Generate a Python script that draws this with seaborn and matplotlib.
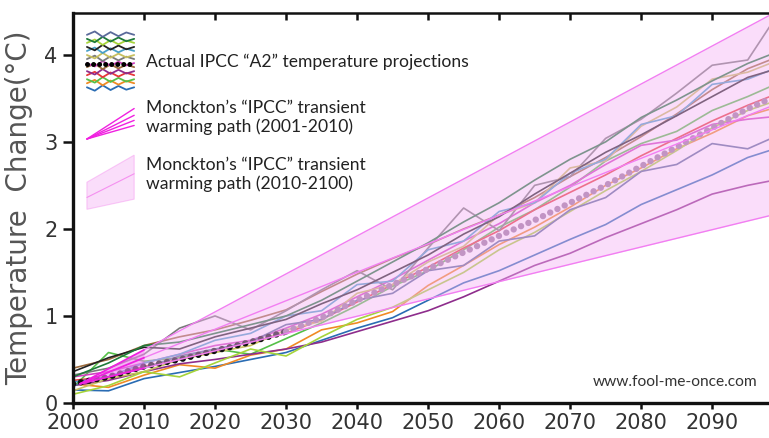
import numpy as np
import pandas as pd
import matplotlib
matplotlib.use("Agg")
import matplotlib.pyplot as plt
import seaborn as sns
from matplotlib.legend_handler import HandlerBase
from matplotlib.lines import Line2D
from matplotlib.patches import Polygon

# ---------------------------------------------------------------------------
# Data (5-year steps)
# ---------------------------------------------------------------------------
years = list(range(2000, 2101, 5))

model_blue = [0.15, 0.14, 0.28, 0.35, 0.42, 0.50, 0.58, 0.72, 0.86, 0.98, 1.18, 1.38, 1.52, 1.70, 1.88, 2.05, 2.28, 2.45, 2.62, 2.82, 2.95]
model_orange = [0.22, 0.18, 0.32, 0.44, 0.40, 0.55, 0.62, 0.84, 0.92, 1.05, 1.35, 1.58, 1.82, 2.02, 2.25, 2.50, 2.70, 2.92, 3.10, 3.30, 3.42]
model_green = [0.18, 0.58, 0.48, 0.52, 0.62, 0.56, 0.74, 0.92, 1.12, 1.34, 1.52, 1.76, 2.02, 2.22, 2.48, 2.78, 2.98, 3.12, 3.36, 3.52, 3.70]
model_red = [0.26, 0.30, 0.42, 0.50, 0.60, 0.70, 0.80, 0.96, 1.16, 1.36, 1.56, 1.78, 1.98, 2.22, 2.42, 2.62, 2.84, 3.04, 3.24, 3.42, 3.58]
model_purple = [0.20, 0.26, 0.36, 0.45, 0.50, 0.56, 0.62, 0.70, 0.82, 0.94, 1.06, 1.22, 1.40, 1.58, 1.72, 1.90, 2.06, 2.22, 2.40, 2.50, 2.58]
model_brown = [0.40, 0.50, 0.66, 0.76, 0.84, 0.95, 1.07, 1.28, 1.48, 1.66, 1.82, 2.00, 2.16, 2.36, 2.60, 2.82, 3.06, 3.32, 3.60, 3.84, 4.00]
model_pink = [0.30, 0.36, 0.46, 0.56, 0.66, 0.72, 0.86, 1.02, 1.22, 1.42, 1.64, 1.86, 2.06, 2.30, 2.50, 2.74, 2.96, 3.02, 3.20, 3.26, 3.30]
model_gray = [0.32, 0.40, 0.56, 0.86, 1.00, 0.84, 1.06, 1.30, 1.52, 1.30, 1.78, 2.24, 1.98, 2.50, 2.60, 3.04, 3.26, 3.56, 3.88, 3.94, 4.56]
model_olive = [0.14, 0.28, 0.36, 0.50, 0.58, 0.66, 0.84, 0.94, 1.26, 1.36, 1.62, 1.80, 2.16, 2.30, 2.70, 2.78, 3.18, 3.40, 3.72, 3.80, 3.96]
model_cyan = [0.24, 0.30, 0.46, 0.56, 0.72, 0.80, 1.00, 1.06, 1.36, 1.40, 1.76, 1.86, 2.20, 2.30, 2.64, 2.80, 3.20, 3.30, 3.66, 3.72, 3.88]
model_black = [0.36, 0.52, 0.64, 0.62, 0.76, 0.86, 0.96, 1.14, 1.30, 1.50, 1.70, 1.94, 2.14, 2.40, 2.64, 2.88, 3.08, 3.30, 3.52, 3.74, 3.86]
model_lime = [0.10, 0.20, 0.36, 0.30, 0.46, 0.62, 0.54, 0.76, 0.96, 1.10, 1.30, 1.50, 1.76, 1.96, 2.20, 2.44, 2.66, 2.90, 3.16, 3.36, 3.50]
model_darkgreen = [0.30, 0.46, 0.66, 0.70, 0.80, 0.90, 1.00, 1.18, 1.40, 1.62, 1.84, 2.08, 2.30, 2.56, 2.80, 3.00, 3.28, 3.48, 3.70, 3.90, 4.06]
model_slate = [0.20, 0.30, 0.40, 0.54, 0.62, 0.70, 0.90, 0.96, 1.18, 1.26, 1.52, 1.58, 1.86, 1.92, 2.22, 2.36, 2.66, 2.74, 2.98, 2.92, 3.10]

ensemble_mean = [0.22, 0.30, 0.42, 0.50, 0.60, 0.70, 0.82, 0.98, 1.18, 1.36, 1.54, 1.73, 1.92, 2.10, 2.30, 2.50, 2.72, 2.94, 3.16, 3.38, 3.56]

# Monckton's fan: apex in 2001, bright segment to 2010, pale wedge to 2098
fan_years = [2001, 2010, 2098]
fan_upper = [0.22, 0.61, 4.45]
fan_middle = [0.22, 0.52, 3.40]
fan_lower = [0.22, 0.40, 2.15]

models = {
    "blue": model_blue, "orange": model_orange, "green": model_green,
    "red": model_red, "purple": model_purple, "brown": model_brown,
    "pink": model_pink, "gray": model_gray, "olive": model_olive,
    "cyan": model_cyan, "black": model_black, "lime": model_lime,
    "darkgreen": model_darkgreen, "slate": model_slate,
}
model_colors = {
    "blue": "#2a6cb3", "orange": "#f08a24", "green": "#55c048",
    "red": "#e8383a", "purple": "#8e2d8c", "brown": "#9b6a3c",
    "pink": "#d040c0", "gray": "#7a7a7a", "olive": "#c8c060",
    "cyan": "#4aa0c8", "black": "#222222", "lime": "#a6d43a",
    "darkgreen": "#1e7a3a", "slate": "#5a6a9a",
}

model_df = pd.DataFrame(
    [(name, yr, val) for name, vals in models.items() for yr, val in zip(years, vals)],
    columns=["model", "year", "temp"],
)
# the mean is black up to 2030 and washed out beyond, where it sits in the wedge
mean_df = pd.concat([
    pd.DataFrame({"year": years[:7], "temp": ensemble_mean[:7], "part": "early"}),
    pd.DataFrame({"year": years[6:], "temp": ensemble_mean[6:], "part": "late"}),
])

FILL_COLOR = "#f4b4f4"

# ---------------------------------------------------------------------------
# Legend swatches
# ---------------------------------------------------------------------------
class EnsembleSwatch(HandlerBase):
    def create_artists(self, legend, orig_handle, xdescent, ydescent,
                       width, height, fontsize, trans):
        artists = []
        xs = np.linspace(-xdescent, width - xdescent, 7)
        wiggle = [0.0, 0.10, -0.06, 0.08, -0.04, 0.07, 0.0]
        names = list(model_colors)
        for i, name in enumerate(names):
            base = -ydescent + height * (-0.25 + 1.55 * i / (len(names) - 1))
            ys = [base + w * height * (1 if i % 2 else -1) for w in wiggle]
            artists.append(Line2D(xs, ys, color=model_colors[name], lw=1.3,
                                  transform=trans))
        mid = -ydescent + height * 0.45
        artists.append(Line2D(xs, [mid] * len(xs), color="black", lw=3.6,
                              ls=(0, (0.01, 1.2)), dash_capstyle="round",
                              transform=trans))
        return artists


class FanSwatch(HandlerBase):
    def create_artists(self, legend, orig_handle, xdescent, ydescent,
                       width, height, fontsize, trans):
        x0, x1 = -xdescent, width - xdescent
        y0 = -ydescent - 0.1 * height
        artists = []
        for frac in [0.3, 0.45, 0.6, 0.8]:
            artists.append(Line2D([x0, x1], [y0, -ydescent + frac * height],
                                  color="#f020e0", lw=1.0, transform=trans))
        return artists


class WedgeSwatch(HandlerBase):
    def create_artists(self, legend, orig_handle, xdescent, ydescent,
                       width, height, fontsize, trans):
        x0, x1 = -xdescent, width - xdescent
        poly = Polygon(
            [[x0, -ydescent - 0.5 * height], [x0, -ydescent + 0.3 * height],
             [x1, -ydescent + 1.1 * height], [x1, -ydescent - 0.2 * height]],
            closed=True, facecolor=FILL_COLOR, alpha=0.45,
            edgecolor="#f590f0", lw=0.8, transform=trans,
        )
        mid = Line2D([x0, x1], [-ydescent - 0.15 * height, -ydescent + 0.55 * height],
                     color="#f590f0", lw=0.8, transform=trans)
        return [poly, mid]


# ---------------------------------------------------------------------------
# Plot
# ---------------------------------------------------------------------------
sns.set_style("ticks")
plt.rcParams["font.family"] = ["DejaVu Sans"]

fig = plt.figure(figsize=(7.69, 4.38), dpi=100)
ax = fig.add_axes([73 / 769, 35 / 438, 696 / 769, 390 / 438])

sns.lineplot(
    data=model_df, x="year", y="temp", hue="model",
    palette=model_colors, linewidth=1.2, legend=False, ax=ax, zorder=2,
)
sns.lineplot(
    data=mean_df, x="year", y="temp", hue="part",
    palette={"early": "#111111", "late": "#9a7a9e"}, linewidth=4.6,
    linestyle=(0, (0.01, 1.25)), dash_capstyle="round", legend=False,
    ax=ax, zorder=3,
)

# pale wedge drawn over the projections, stronger for 2001-2010
ax.fill_between(fan_years, fan_lower, fan_upper, color=FILL_COLOR,
                alpha=0.45, lw=0, zorder=4)
ax.fill_between(fan_years[:2], fan_lower[:2], fan_upper[:2], color="#f050f0",
                alpha=0.3, lw=0, zorder=4)
for edge in (fan_upper, fan_middle, fan_lower):
    ax.plot(fan_years[1:], edge[1:], color="#f27ef2", lw=1.0, zorder=5)
    ax.plot(fan_years[:2], edge[:2], color="#f020e0", lw=1.3, zorder=5)

ax.set_xlim(2000, 2098)
ax.set_ylim(0, 4.48)
ax.set_xticks(range(2000, 2091, 10))
ax.set_yticks([0, 1, 2, 3, 4])

for side in ("left", "bottom"):
    ax.spines[side].set_linewidth(2.4)
    ax.spines[side].set_color("#111111")
ax.spines["top"].set_linewidth(1.8)
ax.spines["top"].set_color("#111111")
ax.spines["right"].set_visible(False)

ax.tick_params(axis="y", direction="out", length=7, width=1.8, pad=4,
               labelsize=15, labelcolor="#333333", color="#111111")
ax.tick_params(axis="x", direction="out", length=4, width=1.8, pad=3,
               labelsize=15, labelcolor="#333333", color="#111111")

top_axis = ax.secondary_xaxis("top")
top_axis.set_xticks(range(2000, 2091, 10))
top_axis.tick_params(direction="in", length=5, width=1.8, color="#111111",
                     labeltop=False)
top_axis.spines["top"].set_visible(False)

ax.set_xlabel("")
ax.set_ylabel("Temperature  Change(°C)", fontsize=20, color="#555555",
              labelpad=8)

h1, h2, h3 = Line2D([], []), Line2D([], []), Line2D([], [])
leg = ax.legend(
    [h1, h2, h3],
    ["Actual IPCC \u201cA2\u201d temperature projections",
     "Monckton\u2019s \u201cIPCC\u201d transient\nwarming path (2001-2010)",
     "Monckton\u2019s \u201cIPCC\u201d transient\nwarming path (2010-2100)"],
    handler_map={h1: EnsembleSwatch(), h2: FanSwatch(), h3: WedgeSwatch()},
    loc="upper left", bbox_to_anchor=(0.02, 0.918), frameon=False,
    borderpad=0, borderaxespad=0, handlelength=2.7, handleheight=2.6,
    handletextpad=0.7, labelspacing=1.2,
    prop={"family": "Lato", "size": 12.6},
)
for txt in leg.get_texts():
    txt.set_color("#222222")

ax.text(0.984, 0.035, "www.fool-me-once.com", transform=ax.transAxes,
        ha="right", va="bottom", fontsize=11.2, family="Lato", color="#333333")

fig.savefig("out.png", dpi=100)
